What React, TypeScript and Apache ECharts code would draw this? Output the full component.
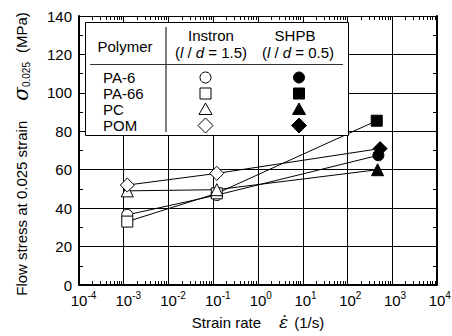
import React, { useEffect, useRef } from 'react';
import * as echarts from 'echarts';

// ---- data ----
const polymers = ['PA-6', 'PA-66', 'PC', 'POM'];
const instronRates = [0.0012, 0.12]; // 1/s
const shpbRates = [490, 450, 470, 535]; // 1/s, per polymer
const pa6Instron = [36.5, 46.8];
const pa66Instron = [33, 47.7];
const pcInstron = [49, 49.6];
const pomInstron = [52, 58.1];
const shpbStress = [67.5, 85.5, 60, 71];
const xTickExponents = [-4, -3, -2, -1, 0, 1, 2, 3, 4];
const yTicks = [0, 20, 40, 60, 80, 100, 120, 140];

const instronStress = [pa6Instron, pa66Instron, pcInstron, pomInstron];
const markerShapes = ['circle', 'rect', 'triangle', 'diamond'];
const markerSizes = [11, 11, 12, 14];

const SANS = '"Liberation Sans", Arial, Helvetica, sans-serif';
const SERIF = '"DejaVu Serif", "Liberation Serif", serif';

function legendSymbol(kind: string, cx: number, cy: number, filled: boolean) {
  const style = { fill: filled ? '#000' : '#fff', stroke: '#000', lineWidth: 1 };
  const z = 101;
  if (kind === 'circle') return { type: 'circle', z, shape: { cx, cy, r: 5.5 }, style };
  if (kind === 'rect') return { type: 'rect', z, shape: { x: cx - 5.5, y: cy - 5.5, width: 11, height: 11 }, style };
  if (kind === 'triangle')
    return { type: 'polygon', z, shape: { points: [[cx, cy - 6.5], [cx + 6.5, cy + 5], [cx - 6.5, cy + 5]] }, style };
  return { type: 'polygon', z, shape: { points: [[cx, cy - 7.5], [cx + 7.5, cy], [cx, cy + 7.5], [cx - 7.5, cy]] }, style };
}

function legendText(text: string, x: number, y: number, align: string, rich?: boolean) {
  return {
    type: 'text', x, y, z: 101,
    style: {
      text, fontSize: 15, fontFamily: SANS, fill: '#000', align, verticalAlign: 'middle',
      rich: rich ? { i: { fontSize: 15, fontFamily: SANS, fontStyle: 'italic', fill: '#000' } } : undefined,
    },
  };
}

export default function App() {
  const ref = useRef<HTMLDivElement>(null);
  useEffect(() => {
    if (!ref.current) return;
    const chart = echarts.init(ref.current, undefined, { renderer: 'svg' });

    const series: any[] = polymers.map((p, i) => ({
      type: 'line',
      name: p,
      symbol: markerShapes[i],
      symbolSize: markerSizes[i],
      showAllSymbol: true,
      silent: true,
      lineStyle: { color: '#000', width: 1 },
      emphasis: { disabled: true },
      data: [
        ...instronRates.map((r, j) => ({
          value: [r, instronStress[i][j]],
          itemStyle: { color: '#fff', borderColor: '#000', borderWidth: 1 },
        })),
        {
          value: [shpbRates[i], shpbStress[i]],
          itemStyle: { color: '#000', borderColor: '#000', borderWidth: 1 },
        },
      ],
    }));

    const rowYs = [77.5, 93.5, 109.5, 125.5];
    const legendEls: any[] = [
      {
        type: 'rect', z: 100,
        shape: { x: 85.5, y: 22.5, width: 263, height: 113 },
        style: { fill: '#fff', stroke: '#000', lineWidth: 1 },
      },
      { type: 'line', z: 101, shape: { x1: 166, y1: 27, x2: 166, y2: 132 }, style: { stroke: '#555', lineWidth: 1.5 } },
      { type: 'line', z: 101, shape: { x1: 90, y1: 64.5, x2: 343, y2: 64.5 }, style: { stroke: '#333', lineWidth: 1 } },
      legendText('Polymer', 125, 46.5, 'center'),
      legendText('Instron', 211, 35, 'center'),
      legendText('SHPB', 295, 35, 'center'),
      legendText('({i|l} / {i|d} = 1.5)', 211, 52, 'center', true),
      legendText('({i|l} / {i|d} = 0.5)', 298, 52, 'center', true),
      ...polymers.map((p, i) => legendText(p, 103, rowYs[i], 'left')),
      ...polymers.map((p, i) => legendSymbol(markerShapes[i], 205.5, rowYs[i], false)),
      ...polymers.map((p, i) => legendSymbol(markerShapes[i], 299, rowYs[i], true)),
    ];

    // axis titles
    const titleEls: any[] = [
      {
        type: 'text', x: 258, y: 322, z: 50,
        style: {
          text: '{t|Strain rate}{g1| }{e|ε̇}{g2| }{t|(1/s)}',
          align: 'center', verticalAlign: 'middle', fill: '#000',
          rich: {
            t: { fontSize: 15, fontFamily: SANS, fill: '#000' },
            g1: { width: 18, fontSize: 15 },
            g2: { width: 6, fontSize: 15 },
            e: { fontFamily: SERIF, fontStyle: 'italic', fontSize: 17, fill: '#000' },
          },
        },
      },
      {
        type: 'text', x: 21, y: 154, z: 50, rotation: Math.PI / 2,
        style: {
          text: '{t|Flow stress at 0.025 strain}{g1| }{sig|σ}{sub|0.025}{g2| }{t|(MPa)}',
          align: 'center', verticalAlign: 'middle', fill: '#000',
          rich: {
            t: { fontSize: 15, fontFamily: SANS, fill: '#000' },
            g1: { width: 20, fontSize: 15 },
            g2: { width: 9, fontSize: 15 },
            sig: { fontFamily: SERIF, fontStyle: 'italic', fontSize: 20, fill: '#000' },
            sub: { fontFamily: SANS, fontSize: 10, fill: '#000', verticalAlign: 'bottom', padding: [8, 0, 0, 0] },
          },
        },
      },
    ];

    const xCommon = {
      type: 'log',
      logBase: 10,
      min: Math.pow(10, xTickExponents[0]),
      max: Math.pow(10, xTickExponents[xTickExponents.length - 1]),
      splitNumber: xTickExponents.length - 1,
      minorTick: { show: true, splitNumber: 9, length: 4, lineStyle: { color: '#000', width: 1 } },
      axisTick: { show: true, inside: true, length: 4, lineStyle: { color: '#000', width: 1 } },
    };
    const yCommon = {
      type: 'value',
      min: yTicks[0],
      max: yTicks[yTicks.length - 1],
      interval: yTicks[1] - yTicks[0],
      minorTick: { show: true, splitNumber: 2, length: 4, lineStyle: { color: '#000', width: 1 } },
      axisTick: { show: true, inside: true, length: 4, lineStyle: { color: '#000', width: 1 } },
    };

    chart.setOption({
      animation: false,
      backgroundColor: '#fff',
      grid: { left: 79, right: 15, top: 16, bottom: 51, containLabel: false, outerBoundsMode: 'none' },
      xAxis: [
        {
          ...xCommon,
          position: 'bottom',
          axisLine: { show: true, onZero: false, lineStyle: { color: '#000', width: 2 } },
          splitLine: { show: true, lineStyle: { color: '#000', width: 1 } },
          axisLabel: {
            margin: 5,
            formatter: (v: number) => {
              const e = Math.round(Math.log10(v));
              return e < 0 ? `{bn|10}{s|${e}}` : `{bp|10}{s|${e}}`;
            },
            rich: {
              bn: { fontSize: 15, fontFamily: SANS, color: '#000', lineHeight: 20, verticalAlign: 'middle', padding: [0, 0, 0, 9] },
              bp: { fontSize: 15, fontFamily: SANS, color: '#000', lineHeight: 20, verticalAlign: 'middle', padding: [0, 0, 0, 5.6] },
              s: { fontSize: 10, fontFamily: SANS, color: '#000', verticalAlign: 'top', lineHeight: 20 },
            },
          },
        },
        {
          ...xCommon,
          position: 'top',
          axisLine: { show: true, onZero: false, lineStyle: { color: '#000', width: 1 } },
          splitLine: { show: false },
          axisLabel: { show: false },
        },
      ],
      yAxis: [
        {
          ...yCommon,
          position: 'left',
          axisLine: { show: true, onZero: false, lineStyle: { color: '#000', width: 2 } },
          splitLine: { show: true, lineStyle: { color: '#000', width: 1 } },
          axisLabel: { fontSize: 15, fontFamily: SANS, color: '#000', margin: 7 },
        },
        {
          ...yCommon,
          position: 'right',
          axisLine: { show: true, onZero: false, lineStyle: { color: '#000', width: 2 } },
          splitLine: { show: false },
          axisLabel: { show: false },
        },
      ],
      series,
      graphic: { elements: [...legendEls, ...titleEls] },
    });
    return () => chart.dispose();
  }, []);
  return <div ref={ref} style={{ position: 'absolute', left: 0, top: 0, width: 452, height: 336 }} />;
}
